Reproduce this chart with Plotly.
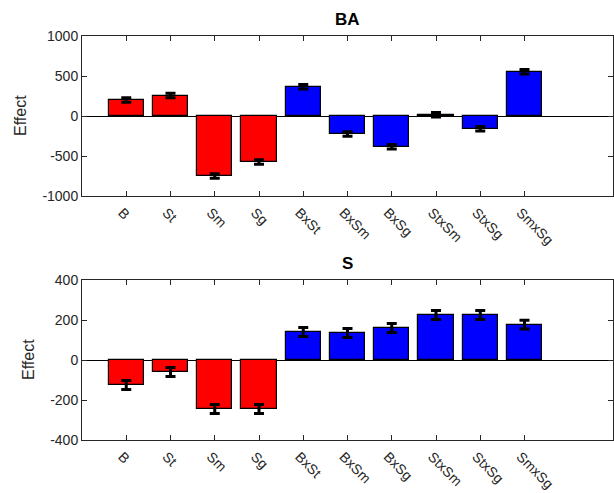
import plotly.graph_objects as go

categories = ["B", "St", "Sm", "Sg", "BxSt", "BxSm", "BxSg", "StxSm", "StxSg", "SmxSg"]
ba_values = [200, 255, -750, -575, 365, -225, -385, 15, -158, 552]
ba_errors = [28, 28, 28, 28, 28, 28, 28, 28, 28, 28]
s_values = [-125, -60, -245, -245, 140, 135, 160, 225, 225, 177]
s_errors = [22, 22, 22, 22, 22, 22, 22, 22, 22, 22]
bar_colors = ["#FF0000"] * 4 + ["#0000FF"] * 6
ba_ticks = [-1000, -500, 0, 500, 1000]
ba_tick_labels = ["-1000", "-500", "0", "500", "1000"]
s_ticks = [-400, -200, 0, 200, 400]
s_tick_labels = ["-400", "-200", "0", "200", "400"]

W, H = 614, 493
FONT = "Liberation Sans, Arial, Helvetica, sans-serif"
AX = "#262626"

xpos = list(range(1, len(categories) + 1))

fig = go.Figure()
for vals, errs, xa, ya in [(ba_values, ba_errors, "x", "y"), (s_values, s_errors, "x2", "y2")]:
    fig.add_trace(go.Bar(
        x=xpos, y=vals, width=0.8, xaxis=xa, yaxis=ya,
        marker=dict(color=bar_colors, line=dict(color="black", width=1.2)),
        error_y=dict(type="data", array=errs, visible=True, color="black", thickness=3, width=5),
        showlegend=False,
    ))

xdom = [82 / W, 613 / W]
top_dom = [1 - 196 / H, 1 - 36 / H]
bot_dom = [1 - 440 / H, 1 - 280 / H]

def xaxis(anchor):
    return dict(domain=xdom, anchor=anchor, range=[0, 12], tickvals=xpos, ticktext=categories,
                tickangle=45, ticks="inside", ticklen=5, tickcolor=AX, showline=True, linecolor=AX,
                linewidth=1, mirror="allticks", showgrid=False, zeroline=False, automargin=False,
                ticklabelshift=-4, ticklabelstandoff=2,
                tickfont=dict(family=FONT, size=14, color=AX))

def yaxis(anchor, dom, rng, tv, tt):
    return dict(domain=dom, anchor=anchor, range=rng, tickvals=tv, ticktext=tt, ticks="inside",
                ticklen=5, tickcolor=AX, showline=True, linecolor=AX, linewidth=1, mirror="allticks",
                showgrid=False, zeroline=True, zerolinecolor="black", zerolinewidth=1,
                automargin=False, tickfont=dict(family=FONT, size=14, color=AX))

fig.update_layout(
    width=W, height=H, autosize=False, margin=dict(l=0, r=0, t=0, b=0, autoexpand=False),
    paper_bgcolor="white", plot_bgcolor="white", bargap=0,
    xaxis=xaxis("y"), yaxis=yaxis("x", top_dom, [-1000, 1000], ba_ticks, ba_tick_labels),
    xaxis2=xaxis("y2"), yaxis2=yaxis("x2", bot_dom, [-400, 400], s_ticks, s_tick_labels),
    annotations=[
        dict(text="<b>BA</b>", x=(xdom[0] + xdom[1]) / 2, y=top_dom[1], xref="paper", yref="paper",
             xanchor="center", yanchor="bottom", yshift=5, showarrow=False,
             font=dict(family=FONT, size=17, color="black")),
        dict(text="<b>S</b>", x=(xdom[0] + xdom[1]) / 2, y=bot_dom[1], xref="paper", yref="paper",
             xanchor="center", yanchor="bottom", yshift=5, showarrow=False,
             font=dict(family=FONT, size=17, color="black")),
        dict(text="Effect", x=20 / W, y=(top_dom[0] + top_dom[1]) / 2, xref="paper", yref="paper",
             xanchor="center", yanchor="middle", textangle=-90, showarrow=False,
             font=dict(family=FONT, size=16, color=AX)),
        dict(text="Effect", x=28 / W, y=(bot_dom[0] + bot_dom[1]) / 2, xref="paper", yref="paper",
             xanchor="center", yanchor="middle", textangle=-90, showarrow=False,
             font=dict(family=FONT, size=16, color=AX)),
    ],
)

fig.write_html(
    "out.html",
    config={"responsive": False, "displayModeBar": False},
    post_script="document.body.style.margin='0';document.body.style.padding='0';document.body.style.overflow='hidden';",
)
